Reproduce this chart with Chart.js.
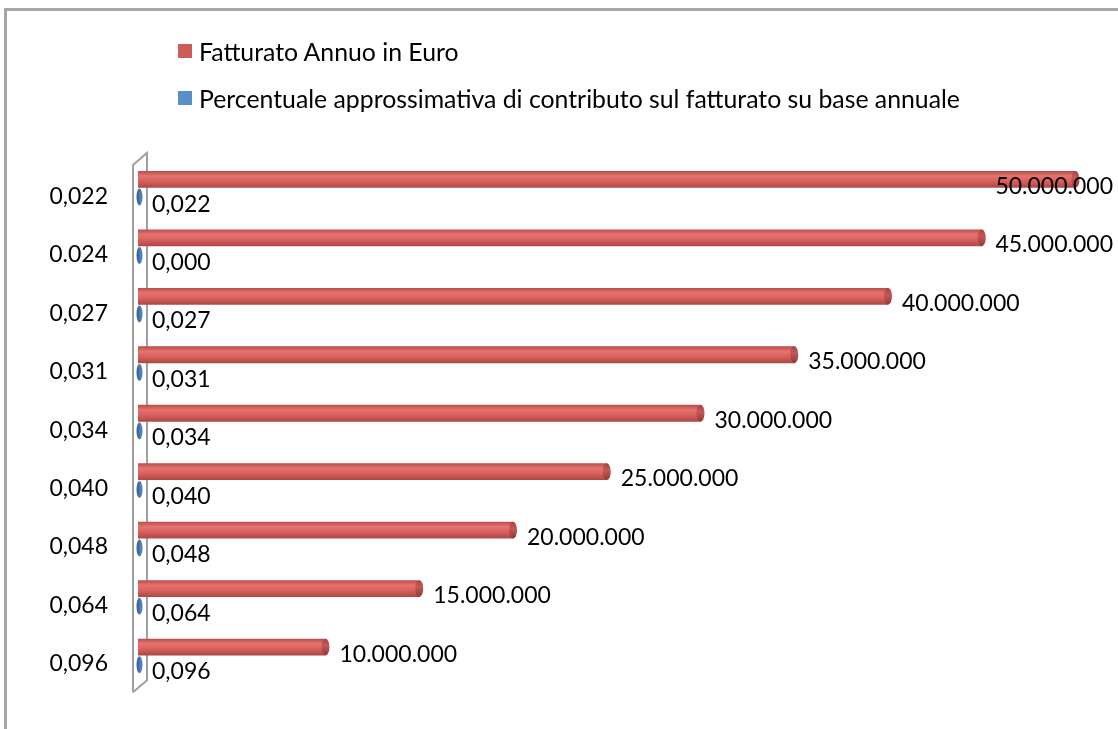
<!DOCTYPE html>
<html>
<head>
<meta charset="utf-8">
<script src="https://cdn.jsdelivr.net/npm/chart.js@4/dist/chart.umd.min.js"></script>
<style>
  html, body { margin: 0; padding: 0; background: #fff; overflow: hidden; }
  #frame {
    position: absolute; left: 4px; top: 8px; width: 2000px; height: 2000px;
    border-left: 3px solid #a6a6a6; border-top: 3px solid #a6a6a6;
  }
  #wrap { position: absolute; left: 0; top: 0; width: 1118px; height: 729px; }
  .legend-item {
    position: absolute; left: 178px; height: 30px;
    display: flex; align-items: center;
    font-family: Lato, sans-serif; font-size: 24.8px; color: #000; white-space: nowrap;
  }
  .legend-box { width: 14px; height: 14px; margin-right: 7px; }
</style>
</head>
<body>
<div id="frame"></div>
<div id="wrap"><canvas id="chart" width="1118" height="729"></canvas></div>
<div class="legend-item" style="top:36px"><span class="legend-box" style="background:#cd5c59"></span>Fatturato Annuo in Euro</div>
<div class="legend-item" style="top:83px"><span class="legend-box" style="background:#5b8fcc"></span>Percentuale approssimativa di contributo sul fatturato su base annuale</div>
<script>
const categories = ['0,022', '0.024', '0,027', '0,031', '0,034', '0,040', '0,048', '0,064', '0,096'];
const revenue = [50000000, 45000000, 40000000, 35000000, 30000000, 25000000, 20000000, 15000000, 10000000];
const share = [0.022, 0.000, 0.027, 0.031, 0.034, 0.040, 0.048, 0.064, 0.096];
const seriesNames = ['Fatturato Annuo in Euro', 'Percentuale approssimativa di contributo sul fatturato su base annuale'];

const FONT = '23px Lato, sans-serif';

function formatEuro(v) {
    return String(Math.round(v)).replace(/\B(?=(\d{3})+(?!\d))/g, '.');
}

function formatShare(v) {
    return v.toFixed(3).replace('.', ',');
}

// cylinder shading across the bar thickness
function redFill(context) {
    const el = context.element;
    if (!el || el.y == null || !el.height) return '#c0504d';
    const top = el.y - el.height / 2;
    const g = context.chart.ctx.createLinearGradient(0, top, 0, top + el.height);
    g.addColorStop(0, '#b84c49');
    g.addColorStop(0.3, '#e5736f');
    g.addColorStop(0.6, '#d9615d');
    g.addColorStop(1, '#ad4643');
    return g;
}

const decorPlugin = {
    id: 'decor',
    beforeDatasetsDraw(chart) {
        // 3D side wall of the category axis
        const ctx = chart.ctx;
        const a = chart.chartArea;
        const x0 = a.left - 5, x1 = a.left + 9;
        ctx.save();
        ctx.strokeStyle = '#a0a0a0';
        ctx.lineWidth = 2;
        ctx.beginPath();
        ctx.moveTo(x0, a.bottom + 7);
        ctx.lineTo(x0, a.top + 6);
        ctx.lineTo(x1, a.top - 6);
        ctx.lineTo(x1, a.bottom - 5);
        ctx.lineTo(x0, a.bottom + 7);
        ctx.stroke();
        ctx.restore();
    },
    afterDatasetsDraw(chart) {
        const ctx = chart.ctx;
        const red = chart.getDatasetMeta(0).data;
        const blue = chart.getDatasetMeta(1).data;
        ctx.save();
        ctx.font = FONT;
        ctx.textBaseline = 'middle';
        ctx.fillStyle = '#000';

        red.forEach((el, i) => {
            const r = el.height / 2;
            const g = ctx.createLinearGradient(0, el.y - r, 0, el.y + r);
            g.addColorStop(0, '#a8423f');
            g.addColorStop(0.4, '#c45956');
            g.addColorStop(1, '#923835');
            ctx.fillStyle = g;
            ctx.beginPath();
            ctx.ellipse(el.x, el.y, 4, r, 0, 0, Math.PI * 2);
            ctx.fill();

            const text = formatEuro(revenue[i]);
            const w = ctx.measureText(text).width;
            const tx = Math.min(el.x + 14, chart.width - 5 - w);
            ctx.fillStyle = '#000';
            ctx.textAlign = 'left';
            ctx.fillText(text, tx, el.y + 7);
        });

        blue.forEach((el, i) => {
            const g = ctx.createLinearGradient(el.base, 0, el.base + 6, 0);
            g.addColorStop(0, '#3a6698');
            g.addColorStop(0.5, '#5687c2');
            g.addColorStop(1, '#3a6698');
            ctx.fillStyle = g;
            ctx.beginPath();
            ctx.ellipse(el.base + 1.5, el.y, 3, 8.5, 0, 0, Math.PI * 2);
            ctx.fill();

            ctx.fillStyle = '#000';
            ctx.textAlign = 'left';
            ctx.fillText(formatShare(share[i]), el.base + 14, el.y + 7);
        });
        ctx.restore();
    }
};

const chart = new Chart(document.getElementById('chart'), {
    type: 'bar',
    data: {
        labels: categories,
        datasets: [{
            label: seriesNames[0],
            data: revenue,
            backgroundColor: redFill,
            borderWidth: 0,
            categoryPercentage: 0.606,
            barPercentage: 0.95
        }, {
            label: seriesNames[1],
            data: share,
            backgroundColor: '#4f81bd',
            borderWidth: 0,
            categoryPercentage: 0.606,
            barPercentage: 0.95
        }]
    },
    options: {
        indexAxis: 'y',
        responsive: false,
        animation: false,
        events: [],
        layout: {
            padding: { top: 159, bottom: 35, left: 0, right: 5 }
        },
        plugins: {
            legend: { display: false },
            tooltip: { enabled: false }
        },
        scales: {
            x: {
                display: false,
                min: 0,
                max: 52000000
            },
            y: {
                afterFit: function(scale) {
                    scale.width = 138;
                },
                grid: { display: false, drawTicks: false },
                border: { display: false },
                ticks: {
                    padding: 30,
                    labelOffset: 8,
                    color: '#000',
                    font: { family: 'Lato', size: 23 }
                }
            }
        }
    },
    plugins: [decorPlugin]
});

// second pass so the gradient can use the laid-out bar positions
chart.update();
</script>
</body>
</html>
